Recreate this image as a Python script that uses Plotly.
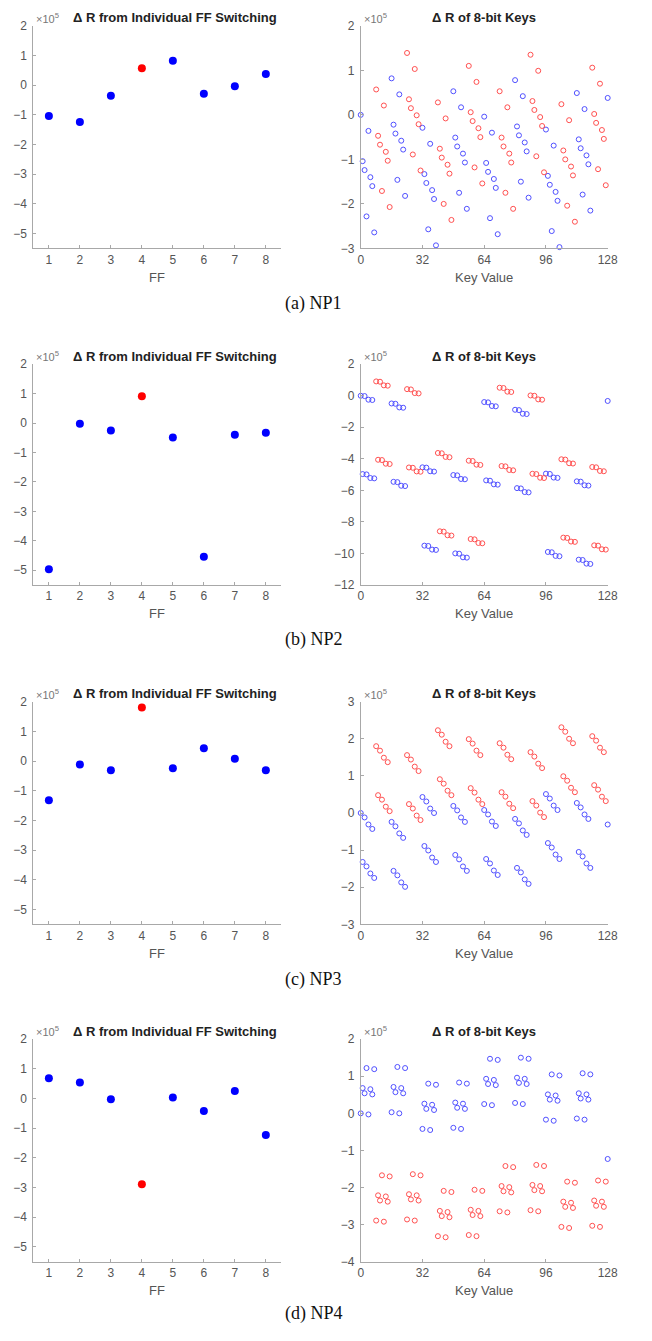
import plotly.graph_objects as go

W, H = 652, 1341

# ---- data (values in units of 1e5) ----
ff_idx = [1, 2, 3, 4, 5, 6, 7, 8]
ff_np1 = [-1.04, -1.24, -0.36, 0.57, 0.82, -0.29, -0.04, 0.38]
ff_np2 = [-4.97, -0.02, -0.25, 0.91, -0.49, -4.54, -0.40, -0.33]
ff_np3 = [-1.32, -0.12, -0.31, 1.80, -0.24, 0.43, 0.08, -0.31]
ff_np4 = [0.68, 0.54, -0.03, -2.89, 0.03, -0.42, 0.25, -1.23]

key_values = list(range(129))

key_np1 = [
    0, -1.04, -1.24, -2.28, -0.36, -1.40, -1.60, -2.64,
    0.57, -0.47, -0.67, -1.71, 0.21, -0.83, -1.03, -2.07,
    0.82, -0.22, -0.42, -1.46, 0.46, -0.58, -0.78, -1.82,
    1.39, 0.35, 0.15, -0.89, 1.03, -0.01, -0.21, -1.25,
    -0.29, -1.33, -1.53, -2.57, -0.65, -1.69, -1.89, -2.93,
    0.28, -0.76, -0.96, -2.00, -0.08, -1.12, -1.32, -2.36,
    0.53, -0.51, -0.71, -1.75, 0.17, -0.87, -1.07, -2.11,
    1.10, 0.06, -0.14, -1.18, 0.74, -0.30, -0.50, -1.54,
    -0.04, -1.08, -1.28, -2.32, -0.40, -1.44, -1.64, -2.68,
    0.53, -0.51, -0.71, -1.75, 0.17, -0.87, -1.07, -2.11,
    0.78, -0.26, -0.46, -1.50, 0.42, -0.62, -0.82, -1.86,
    1.35, 0.31, 0.11, -0.93, 0.99, -0.05, -0.25, -1.29,
    -0.33, -1.37, -1.57, -2.61, -0.69, -1.73, -1.93, -2.97,
    0.24, -0.80, -1.00, -2.04, -0.12, -1.16, -1.36, -2.40,
    0.49, -0.55, -0.75, -1.79, 0.13, -0.91, -1.11, -2.15,
    1.06, 0.02, -0.18, -1.22, 0.70, -0.34, -0.54, -1.58,
    0.38,
]
key_np2 = [
    0, -4.97, -0.02, -4.99, -0.25, -5.22, -0.27, -5.24,
    0.91, -4.06, 0.89, -4.08, 0.66, -4.31, 0.64, -4.33,
    -0.49, -5.46, -0.51, -5.48, -0.74, -5.71, -0.76, -5.73,
    0.42, -4.55, 0.40, -4.57, 0.17, -4.80, 0.15, -4.82,
    -4.54, -9.51, -4.56, -9.53, -4.79, -9.76, -4.81, -9.78,
    -3.63, -8.60, -3.65, -8.62, -3.88, -8.85, -3.90, -8.87,
    -5.03, -10.00, -5.05, -10.02, -5.28, -10.25, -5.30, -10.27,
    -4.12, -9.09, -4.14, -9.11, -4.37, -9.34, -4.39, -9.36,
    -0.40, -5.37, -0.42, -5.39, -0.65, -5.62, -0.67, -5.64,
    0.51, -4.46, 0.49, -4.48, 0.26, -4.71, 0.24, -4.73,
    -0.89, -5.86, -0.91, -5.88, -1.14, -6.11, -1.16, -6.13,
    0.02, -4.95, 0.00, -4.97, -0.23, -5.20, -0.25, -5.22,
    -4.94, -9.91, -4.96, -9.93, -5.19, -10.16, -5.21, -10.18,
    -4.03, -9.00, -4.05, -9.02, -4.28, -9.25, -4.30, -9.27,
    -5.43, -10.40, -5.45, -10.42, -5.68, -10.65, -5.70, -10.67,
    -4.52, -9.49, -4.54, -9.51, -4.77, -9.74, -4.79, -9.76,
    -0.33,
]
key_np3 = [
    0, -1.32, -0.12, -1.44, -0.31, -1.63, -0.43, -1.75,
    1.80, 0.48, 1.68, 0.36, 1.49, 0.17, 1.37, 0.05,
    -0.24, -1.56, -0.36, -1.68, -0.55, -1.87, -0.67, -1.99,
    1.56, 0.24, 1.44, 0.12, 1.25, -0.07, 1.13, -0.19,
    0.43, -0.89, 0.31, -1.01, 0.12, -1.20, 0.00, -1.32,
    2.23, 0.91, 2.11, 0.79, 1.92, 0.60, 1.80, 0.48,
    0.19, -1.13, 0.07, -1.25, -0.12, -1.44, -0.24, -1.56,
    1.99, 0.67, 1.87, 0.55, 1.68, 0.36, 1.56, 0.24,
    0.08, -1.24, -0.04, -1.36, -0.23, -1.55, -0.35, -1.67,
    1.88, 0.56, 1.76, 0.44, 1.57, 0.25, 1.45, 0.13,
    -0.16, -1.48, -0.28, -1.60, -0.47, -1.79, -0.59, -1.91,
    1.64, 0.32, 1.52, 0.20, 1.33, 0.01, 1.21, -0.11,
    0.51, -0.81, 0.39, -0.93, 0.20, -1.12, 0.08, -1.24,
    2.31, 0.99, 2.19, 0.87, 2.00, 0.68, 1.88, 0.56,
    0.27, -1.05, 0.15, -1.17, -0.04, -1.36, -0.16, -1.48,
    2.07, 0.75, 1.95, 0.63, 1.76, 0.44, 1.64, 0.32,
    -0.31,
]
key_np4 = [
    0, 0.68, 0.54, 1.22, -0.03, 0.65, 0.51, 1.19,
    -2.89, -2.21, -2.35, -1.67, -2.92, -2.24, -2.38, -1.70,
    0.03, 0.71, 0.57, 1.25, 0.00, 0.68, 0.54, 1.22,
    -2.86, -2.18, -2.32, -1.64, -2.89, -2.21, -2.35, -1.67,
    -0.42, 0.26, 0.12, 0.80, -0.45, 0.23, 0.09, 0.77,
    -3.31, -2.63, -2.77, -2.09, -3.34, -2.66, -2.80, -2.12,
    -0.39, 0.29, 0.15, 0.83, -0.42, 0.26, 0.12, 0.80,
    -3.28, -2.60, -2.74, -2.06, -3.31, -2.63, -2.77, -2.09,
    0.25, 0.93, 0.79, 1.47, 0.22, 0.90, 0.76, 1.44,
    -2.64, -1.96, -2.10, -1.42, -2.67, -1.99, -2.13, -1.45,
    0.28, 0.96, 0.82, 1.50, 0.25, 0.93, 0.79, 1.47,
    -2.61, -1.93, -2.07, -1.39, -2.64, -1.96, -2.10, -1.42,
    -0.17, 0.51, 0.37, 1.05, -0.20, 0.48, 0.34, 1.02,
    -3.06, -2.38, -2.52, -1.84, -3.09, -2.41, -2.55, -1.87,
    -0.14, 0.54, 0.40, 1.08, -0.17, 0.51, 0.37, 1.05,
    -3.03, -2.35, -2.49, -1.81, -3.06, -2.38, -2.52, -1.84,
    -1.23,
]

captions = ["(a) NP1", "(b) NP2", "(c) NP3", "(d) NP4"]
left_title = "\u0394 R from Individual FF Switching"
right_title = "\u0394 R of 8-bit Keys"
key_ticks = [0, 32, 64, 96, 128]
highlight_ff = 4  # flip-flop drawn in red

# ---- layout (pixel geometry) ----
rows = [
    dict(ff=ff_np1, kv=key_np1, top=19, bot=244, rr=[-3, 2], rt=1, cap=300),
    dict(ff=ff_np2, kv=key_np2, top=361, bot=584, rr=[-12, 2], rt=2, cap=639),
    dict(ff=ff_np3, kv=key_np3, top=702, bot=927, rr=[-3, 3], rt=1, cap=983),
    dict(ff=ff_np4, kv=key_np4, top=1043, bot=1268, rr=[-4, 2], rt=1, cap=1320),
]

LX0, LX1 = 31, 284
RX0, RX1 = 365, 617
BLUE, RED = "#0000ff", "#ff0000"
OBLUE, ORED = "rgb(80,80,255)", "rgb(255,80,80)"
AXC = "#a8a8a8"
TKC = "#555555"
FONT = "Liberation Sans"

fig = go.Figure()
layout = dict(width=W, height=H, margin=dict(l=0, r=0, t=0, b=0),
              paper_bgcolor="white", plot_bgcolor="white", showlegend=False,
              annotations=[])


def px(x):
    return x / W


def py(y):
    return 1 - y / H


def axstyle(**kw):
    d = dict(showgrid=False, zeroline=False, showline=True, linecolor=AXC, linewidth=1,
             ticks="inside", ticklen=3, tickcolor=AXC,
             tickfont=dict(family=FONT, size=12, color=TKC), mirror=False)
    d.update(kw)
    return d


def ann(x, y, text, size, color="#222", bold=False, family=FONT, xanchor="center", yanchor="middle"):
    if bold:
        text = "<b>" + text + "</b>"
    layout["annotations"].append(dict(x=px(x), y=py(y), xref="paper", yref="paper", text=text,
                                      showarrow=False, font=dict(family=family, size=size, color=color),
                                      xanchor=xanchor, yanchor=yanchor))


for i, r in enumerate(rows):
    li = 2 * i + 1
    ri = 2 * i + 2
    ydom = [py(r["bot"]), py(r["top"])]
    layout["xaxis%d" % li] = axstyle(domain=[px(LX0), px(LX1)], range=[0.5, 8.5], tickvals=ff_idx,
                                     anchor="y%d" % li)
    layout["yaxis%d" % li] = axstyle(domain=ydom, range=[-5.5, 2], tickvals=list(range(-5, 3)),
                                     anchor="x%d" % li, ticklabelstandoff=3)
    layout["xaxis%d" % ri] = axstyle(domain=[px(RX0), px(RX1)], range=[0, 128], tickvals=key_ticks,
                                     anchor="y%d" % ri)
    layout["yaxis%d" % ri] = axstyle(domain=ydom, range=r["rr"],
                                     tickvals=list(range(r["rr"][0], r["rr"][1] + 1, r["rt"])),
                                     anchor="x%d" % ri, ticklabelstandoff=3)
    xs = "x" if li == 1 else "x%d" % li
    ys = "y" if li == 1 else "y%d" % li
    cols = [RED if k == highlight_ff else BLUE for k in ff_idx]
    fig.add_trace(go.Scatter(x=ff_idx, y=r["ff"], mode="markers", xaxis=xs, yaxis=ys, cliponaxis=False,
                             marker=dict(size=8, color=cols, line=dict(width=0))))
    bx, by, rx, ry = [], [], [], []
    for k, v in zip(key_values, r["kv"]):
        # keys whose FF4 bit is set are drawn red
        if k < 128 and (k >> (highlight_ff - 1)) & 1:
            rx.append(k); ry.append(v)
        else:
            bx.append(k); by.append(v)
    for xx, yy, c in ((bx, by, OBLUE), (rx, ry, ORED)):
        fig.add_trace(go.Scatter(x=xx, y=yy, mode="markers", xaxis="x%d" % ri, yaxis="y%d" % ri,
                                 cliponaxis=False,
                                 marker=dict(symbol="circle-open", size=5, color=c,
                                             line=dict(width=1, color=c))))
    t, b = r["top"], r["bot"]
    ann(175, t - 8, left_title, 13, bold=True)
    ann((RX0 + RX1) / 2, t - 8, right_title, 13, bold=True)
    ann(LX0 + 1, t + 1, "\u00d710<sup>5</sup>", 11, color="#777", xanchor="left", yanchor="bottom")
    ann(RX0 + 1, t + 1, "\u00d710<sup>5</sup>", 11, color="#777", xanchor="left", yanchor="bottom")
    ann((LX0 + LX1) / 2, b + 29, "FF", 13, color=TKC)
    ann((RX0 + RX1) / 2, b + 29, "Key Value", 13, color=TKC)
    ann(317, r["cap"], captions[i], 18, color="#111", family="Liberation Serif")

fig.update_layout(**layout)
fig.write_html("out.html")
